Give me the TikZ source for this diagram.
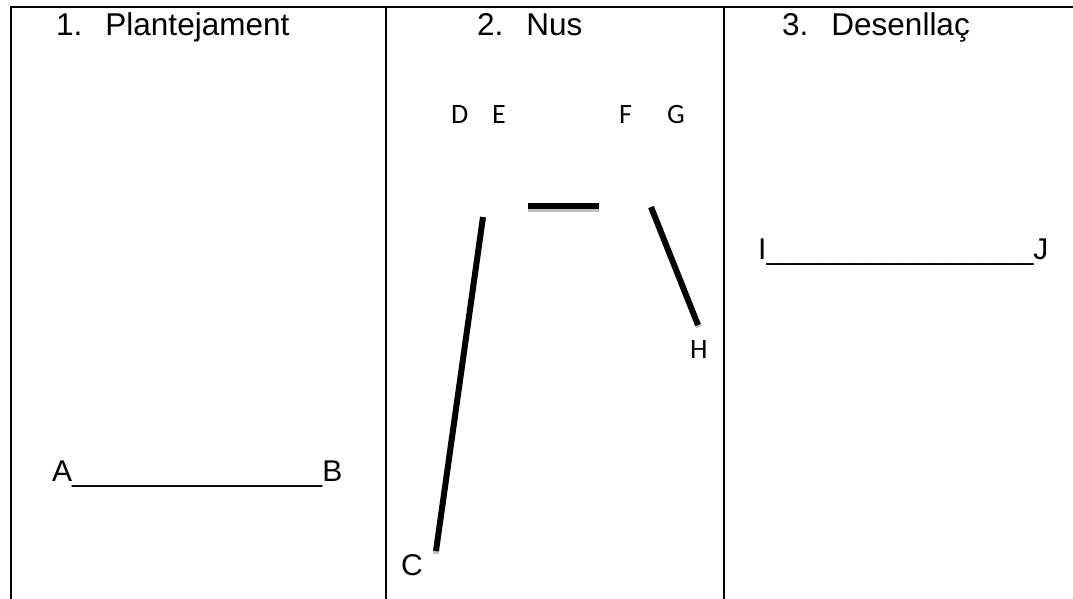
\documentclass[tikz,border=0pt]{standalone}
\usepackage{fontspec}
\setmainfont{Liberation Sans}
\newfontfamily\calibri{Carlito}
\usetikzlibrary{positioning}
\tikzstyle{title} = [anchor=base west, inner sep=0pt, font=\fontsize{31.5}{36}\selectfont]
\tikzstyle{point} = [anchor=base west, inner sep=0pt, font=\fontsize{30}{36}\selectfont]
\tikzstyle{small} = [anchor=base west, inner sep=0pt, font=\calibri\fontsize{28}{32}\selectfont]
\tikzstyle{rule} = [line width=2.2pt]
\tikzstyle{stroke} = [line width=6pt]
\tikzstyle{shade} = [line width=6pt, black!25]

\newcommand{\blank}[1]{\foreach \i in {1,...,#1}{\_}}

\begin{document}
\begin{tikzpicture}[x=1pt, y=-1pt]
        \useasboundingbox (0,0) rectangle (1073,599);
        % table
        \draw [rule] (10,7) -- (1073,7);
        \draw [rule] (11,7) -- (11,599);
        \draw [rule] (386,7) -- (386,599);
        \draw [rule] (724,7) -- (724,599);
        % headings
        \node (plant) [title] at (56,36) {1.\hspace{23pt}Plantejament};
        \node (nus) [title] at (477,36) {2.\hspace{23pt}Nus};
        \node (desen) [title] at (782,36) {3.\hspace{23pt}Desenllaç};
        % column 1
        \node (ab) [point] at (52,481) {A\blank{15}B};
        % column 2
        \node (d) [small] at (451,124) {D};
        \node (e) [small] at (492,124) {E};
        \node (f) [small] at (619,124) {F};
        \node (g) [small] at (667,124) {G};
        \node (h) [small] at (690,358) {H};
        \node (c) [point] at (401,575) {C};
        \coordinate (ctop) at (483,217);
        \coordinate (cbot) at (436,551);
        \coordinate (mleft) at (528,206);
        \coordinate (mright) at (599,206);
        \coordinate (htop) at (651,207);
        \coordinate (hbot) at (698,325);
        \draw [shade] ([shift={(0,3)}]mleft) -- ([shift={(0,3)}]mright);
        \draw [shade] ([shift={(0,3)}]cbot) -- ([shift={(0,-3)}]cbot);
        \draw [shade] ([shift={(1,2)}]hbot) -- ([shift={(-1,-2)}]hbot);
        \draw [stroke] (ctop) -- (cbot);
        \draw [stroke] (mleft) -- (mright);
        \draw [stroke] (htop) -- (hbot);
        % column 3
        \node (ij) [point] at (758,259) {I\blank{16}J};
    \end{tikzpicture}
\end{document}
